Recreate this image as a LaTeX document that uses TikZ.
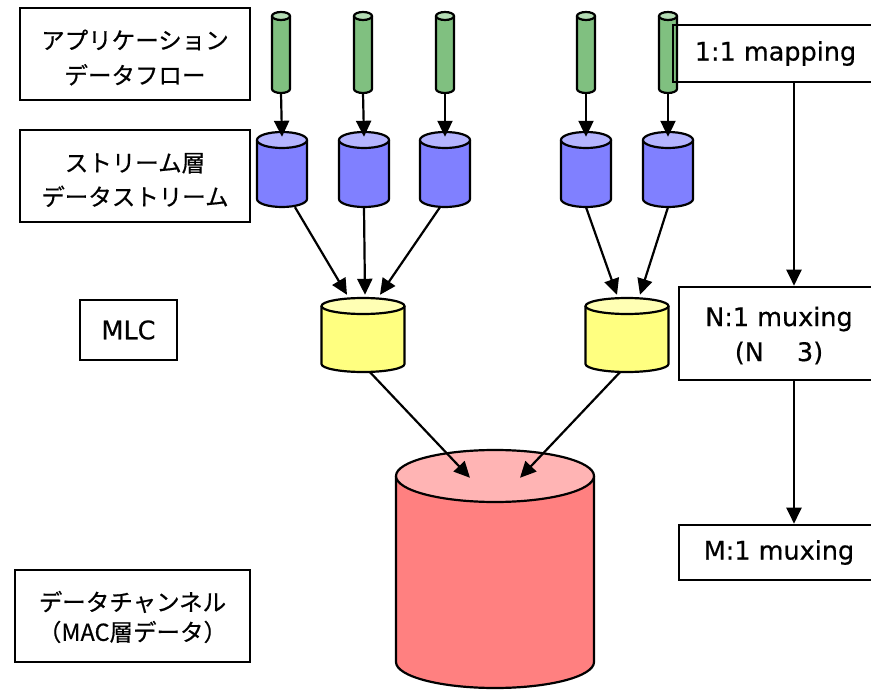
\documentclass[tikz,border=0pt]{standalone}
\usepackage{fontspec}
\setmainfont[FakeBold=0.5]{Noto Sans CJK JP}
\newfontfamily\latinfont[FakeBold=0.5]{DejaVu Sans}
\usetikzlibrary{arrows.meta,calc,fit}

\definecolor{tubebody}{HTML}{80C080}
\definecolor{tubetop}{HTML}{B4DCB4}
\definecolor{strbody}{HTML}{8080FF}
\definecolor{strtop}{HTML}{B4B4FF}
\definecolor{mlcbody}{HTML}{FFFF80}
\definecolor{mlctop}{HTML}{FFFFB4}
\definecolor{chbody}{HTML}{FF8080}
\definecolor{chtop}{HTML}{FFB4B4}

\tikzset{
  cylline/.style={draw=black,line width=2.2pt},
  labelbox/.style={draw=black,line width=2.6pt,align=center,inner sep=0pt,
    font=\fontsize{23.5}{34}\selectfont},
  jptext/.style={align=center,inner sep=0pt,font=\fontsize{23.5}{#1}\selectfont},
  latinbox/.style={labelbox,font=\latinfont\fontsize{25.5}{35}\selectfont},
  arr/.style={line width=2.2pt,-{Triangle[length=16pt,width=15pt]}},
}

% cylinder: name, centre x, top-ellipse y, bottom-ellipse y, x radius, y radius, body colour, top colour
\newcommand\drawcylinder[8]{%
  \fill[#7] (#2-#5,#3) -- (#2-#5,#4) arc[start angle=180,end angle=360,x radius=#5pt,y radius=#6pt] -- (#2+#5,#3) -- cycle;
  \draw[cylline] (#2-#5,#3) -- (#2-#5,#4) arc[start angle=180,end angle=360,x radius=#5pt,y radius=#6pt] -- (#2+#5,#3);
  \draw[cylline,fill=#8] (#2,#3) ellipse[x radius=#5pt,y radius=#6pt];
  \path (#2-#5,#3-#6) coordinate (#1-nw) (#2+#5,#4+#6) coordinate (#1-se);
  \node[inner sep=0pt,fit=(#1-nw)(#1-se)] (#1) {};
}

\begin{document}
\begin{tikzpicture}[x=1pt,y=-1pt]
\useasboundingbox (0,0) rectangle (871,690);
\clip (0,0) rectangle (871,690);

% label boxes on the left
\node[labelbox,minimum width=230pt,minimum height=92pt] (appbox) at (135,54) {};
\node[jptext=35] (apptext) at ($(appbox.center)+(0,3.5)$) {アプリケーション\\データフロー};
\node[labelbox,minimum width=230pt,minimum height=92pt] (strbox) at (135,176) {};
\node[jptext=34] (strtext) at ($(strbox.center)+(0,4)$) {ストリーム層\\データストリーム};
\node[latinbox,minimum width=97pt,minimum height=60pt] (mlcbox) at (128.5,330) {MLC};
\node[labelbox,minimum width=235pt,minimum height=92pt] (chbox) at (132.5,616) {};
\node[jptext=30] (chtext) at ($(chbox.center)+(0,1)$) {データチャンネル\\（MAC層データ）};

% application data flows
\drawcylinder{g1}{281}{16}{89}{9}{4}{tubebody}{tubetop}
\drawcylinder{g2}{363}{16}{89}{9}{4}{tubebody}{tubetop}
\drawcylinder{g3}{445}{16}{89}{9}{4}{tubebody}{tubetop}
\drawcylinder{g4}{586}{16}{89}{9}{4}{tubebody}{tubetop}
\drawcylinder{g5}{668}{16}{89}{9}{4}{tubebody}{tubetop}

% stream layer data streams
\drawcylinder{b1}{282}{140}{199}{25}{8}{strbody}{strtop}
\drawcylinder{b2}{364}{140}{199}{25}{8}{strbody}{strtop}
\drawcylinder{b3}{445}{140}{199}{25}{8}{strbody}{strtop}
\drawcylinder{b4}{586}{140}{199}{25}{8}{strbody}{strtop}
\drawcylinder{b5}{668}{140}{199}{25}{8}{strbody}{strtop}

% MLC
\drawcylinder{y1}{363}{306}{364}{41.5}{8}{mlcbody}{mlctop}
\drawcylinder{y2}{627}{306}{364}{41.5}{8}{mlcbody}{mlctop}

% data channel
\drawcylinder{r1}{495}{476}{662}{99}{26}{chbody}{chtop}

% mapping boxes on the right
\node[latinbox,minimum width=205pt,minimum height=57pt] (mapbox) at (775.5,53.5) {1:1 mapping};
\node[latinbox,minimum width=200pt,minimum height=93pt] (nmuxbox) at (779,333.5) {};
\node[jptext=35,font=\latinfont\fontsize{25.5}{35}\selectfont] (nmuxtext) at ($(nmuxbox.center)+(0,2)$) {N:1 muxing\\(N\hspace{1.3em}3)};
\node[latinbox,minimum width=200pt,minimum height=55pt] (mmuxbox) at (779,552.5) {M:1 muxing};

% flows into streams
\foreach \i in {1,...,5}{
  \draw[arr] (g\i.south) -- ($(b\i.north)+(0,5)$);
}
% streams into MLC
\draw[arr] ($(b1.south)+(13,0)$) -- ($(y1.north)+(-16,-3)$);
\draw[arr] (b2.south) -- ($(y1.north)+(2,-3)$);
\draw[arr] ($(b3.south)+(-5,0)$) -- ($(y1.north)+(17,-3)$);
\draw[arr] (b4.south) -- ($(y2.north)+(-10,-3)$);
\draw[arr] (b5.south) -- ($(y2.north)+(13,-3)$);
% MLC into data channel
\draw[arr] ($(y1.south)+(7,0)$) -- ($(r1.north)+(-25,28)$);
\draw[arr] ($(y2.south)+(-7,0)$) -- ($(r1.north)+(25,28)$);

% mapping hierarchy
\draw[arr] ($(mapbox.south)+(18.5,0)$) -- ($(nmuxbox.north)+(15,0)$);
\draw[arr] ($(nmuxbox.south)+(15,0)$) -- ($(mmuxbox.north)+(15,0)$);
\end{tikzpicture}
\end{document}
